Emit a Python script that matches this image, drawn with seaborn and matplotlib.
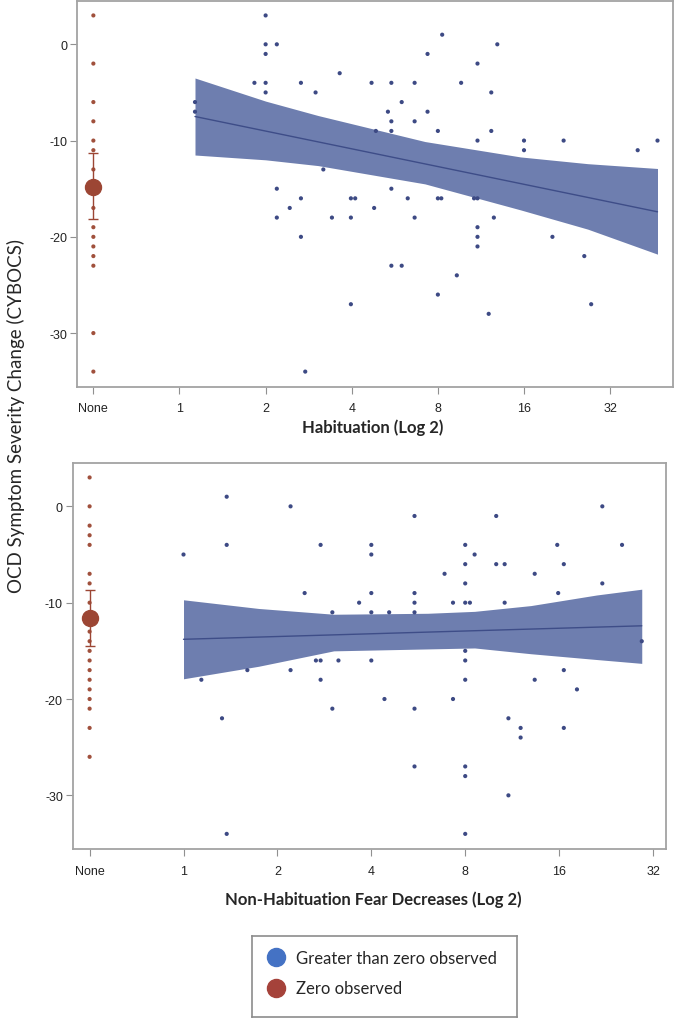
import matplotlib
matplotlib.use('Agg')
import matplotlib.pyplot as plt
import seaborn as sns
from matplotlib.lines import Line2D

# --- data (x is log2 of the count, "None" sits at -1) ---
tick_pos = [-1, 0, 1, 2, 3, 4, 5]
tick_labels = ['None', '1', '2', '4', '8', '16', '32']
y_ticks = [0, -10, -20, -30]

# panel 1: habituation
hab_x = [1.0, 1.0, 1.13, 1.0, 0.87, 1.0, 1.41, 1.0, 1.58, 0.18, 0.18, 1.86, 1.67, 1.13,
         1.41, 1.28, 1.13, 1.77, 1.41, 1.46,
         3.05, 3.69, 2.88, 3.46, 2.23, 2.46, 2.73, 3.27, 3.62, 2.58, 2.42, 2.88, 2.46,
         2.73, 2.28, 2.46, 3.0, 3.62, 3.46, 4.0, 4.46, 5.55, 4.0, 5.32, 2.46, 1.99,
         2.04, 2.65, 3.0, 3.04, 3.42, 3.46, 2.26, 1.99, 2.73, 3.65, 3.46, 3.46, 3.46,
         4.33, 4.70, 2.46, 2.58, 3.22, 3.0, 1.99, 4.78, 3.59]
hab_y = [3, 0, 0, -1, -4, -4, -4, -5, -5, -6, -7, -3, -13, -15,
         -16, -17, -18, -18, -20, -34,
         1, 0, -1, -2, -4, -4, -4, -4, -5, -6, -7, -7, -8,
         -8, -9, -9, -9, -9, -10, -10, -10, -10, -11, -11, -15, -16,
         -16, -16, -16, -16, -16, -16, -17, -18, -18, -18, -19, -20, -21,
         -20, -22, -23, -23, -24, -26, -27, -27, -28]
hab_zero_y = [3, -2, -6, -8, -10, -11, -13, -15, -17, -19, -20, -21, -22, -23, -30, -34]
hab_zero_mean = -14.8
hab_zero_hi = -11.25
hab_zero_lo = -18.1
hab_band_x = [0.18, 1.0, 1.61, 2.85, 3.96, 4.74, 5.55]
hab_band_hi = [-3.5, -5.9, -7.4, -10.1, -11.7, -12.4, -12.9]
hab_band_lo = [-11.5, -12.0, -12.6, -14.5, -17.2, -19.2, -21.8]
hab_line_x = [0.18, 5.55]
hab_line_y = [-7.5, -17.4]

# panel 2: non-habituation fear decreases
nh_x = [0.0, 0.46, 0.46, 1.14, 1.46, 1.29, 1.585, 0.19, 0.68, 1.14, 1.41, 1.46, 1.65,
        1.46, 1.585, 0.41, 0.46,
        4.46, 2.46, 3.33, 2.0, 3.0, 3.98, 4.67, 2.0, 3.1, 3.0, 3.33, 3.42, 4.05, 2.78,
        3.74, 3.0, 4.46, 2.0, 2.46, 3.99, 1.87, 2.46, 2.87, 3.0, 3.05, 3.42, 2.0, 2.19,
        2.46, 4.88, 3.0, 2.0, 3.0, 4.05, 3.0, 3.74, 4.19, 2.14, 2.87, 2.46, 3.46, 3.59,
        3.59, 4.05, 2.46, 3.0, 3.0, 3.46, 3.0]
nh_y = [-5, 1, -4, 0, -4, -9, -11, -18, -17, -17, -16, -16, -16,
        -18, -21, -22, -34,
        0, -1, -1, -4, -4, -4, -4, -5, -5, -6, -6, -6, -6, -7,
        -7, -8, -8, -9, -9, -9, -10, -10, -10, -10, -10, -10, -11, -11,
        -11, -14, -15, -16, -16, -17, -18, -18, -19, -20, -20, -21, -22, -23,
        -24, -23, -27, -27, -28, -30, -34]
nh_zero_y = [3, 0, -2, -3, -4, -7, -8, -10, -12, -13, -14, -15, -16, -17, -18, -19,
             -20, -21, -23, -26]
nh_zero_mean = -11.6
nh_zero_hi = -8.7
nh_zero_lo = -14.5
nh_band_x = [0.0, 0.8, 1.6, 2.6, 3.1, 3.7, 4.4, 4.88]
nh_band_hi = [-9.7, -10.6, -11.2, -11.1, -10.9, -10.3, -9.2, -8.6]
nh_band_lo = [-17.9, -16.6, -15.0, -14.8, -14.7, -15.3, -15.9, -16.3]
nh_line_x = [0.0, 4.88]
nh_line_y = [-13.8, -12.4]

# --- style ---
sns.set_style('white')
plt.rcParams['font.family'] = ['Liberation Sans', 'DejaVu Sans']
plt.rcParams['axes.unicode_minus'] = False

blue_dot = '#3D4A84'
red_dot = '#A0503C'
band_col = '#6E7EAF'
line_col = '#3E4D88'
spine_col = '#A3A3A3'
label_font = ['Lato', 'DejaVu Sans']

fig = plt.figure(figsize=(6.75, 10.2), dpi=100)
ax1 = fig.add_axes([77/675, 1-388/1020, 596/675, 386/1020])
ax2 = fig.add_axes([72.7/675, 1-850.3/1020, 593/675, 386.3/1020])


def draw_panel(ax, x, y, zero_y, z_mean, z_hi, z_lo, bx, bhi, blo, lx, ly, xlim):
    ax.fill_between(bx, blo, bhi, color=band_col, lw=0, zorder=1)
    sns.lineplot(x=lx, y=ly, ax=ax, color=line_col, lw=1.0, zorder=2)
    sns.scatterplot(x=x, y=y, ax=ax, color=blue_dot, s=9, edgecolor='none', zorder=3)
    sns.scatterplot(x=[-1] * len(zero_y), y=zero_y, ax=ax, color=red_dot, s=9,
                    edgecolor='none', zorder=3)
    ax.errorbar([-1], [z_mean], yerr=[[z_mean - z_lo], [z_hi - z_mean]], fmt='o',
                ms=11.5, color='#9C4634', ecolor='#9C4634', elinewidth=1, capsize=3.5,
                capthick=1, zorder=4)
    ax.set_xlim(*xlim)
    ax.set_ylim(-35.6, 4.5)
    ax.set_xticks(tick_pos)
    ax.set_xticklabels(tick_labels)
    ax.set_yticks(y_ticks)
    ax.set_xlabel('')
    ax.set_ylabel('')
    for s in ax.spines.values():
        s.set_visible(True)
        s.set_color(spine_col)
        s.set_linewidth(1.3)
    ax.tick_params(axis='both', direction='out', length=5, width=0.8, color='#909090',
                   labelsize=9, labelcolor='#222222')
    ax.tick_params(axis='x', pad=6, bottom=True)
    ax.tick_params(axis='y', pad=2, left=True)


draw_panel(ax1, hab_x, hab_y, hab_zero_y, hab_zero_mean, hab_zero_hi, hab_zero_lo,
           hab_band_x, hab_band_hi, hab_band_lo, hab_line_x, hab_line_y, (-1.19, 5.73))
draw_panel(ax2, nh_x, nh_y, nh_zero_y, nh_zero_mean, nh_zero_hi, nh_zero_lo,
           nh_band_x, nh_band_hi, nh_band_lo, nh_line_x, nh_line_y, (-1.18, 5.135))

fig.text(373/675, 1-428/1020, 'Habituation (Log 2)', ha='center', va='center',
         fontsize=12, fontweight='bold', family=label_font)
fig.text(373/675, 1-900/1020, 'Non-Habituation Fear Decreases (Log 2)', ha='center',
         va='center', fontsize=12, fontweight='bold', family=label_font)
fig.text(16/675, 1-416/1020, 'OCD Symptom Severity Change (CYBOCS)', rotation=90,
         ha='center', va='center', fontsize=13.5, family=label_font)

# legend box
lax = fig.add_axes([252/675, 1-1018/1020, 265/675, 81/1020])
lax.set_xticks([])
lax.set_yticks([])
for s in lax.spines.values():
    s.set_color('#8C8C8C')
    s.set_linewidth(1.2)
handles = [Line2D([], [], marker='o', ls='none', ms=13, color='#4472C4',
                  label='Greater than zero observed'),
           Line2D([], [], marker='o', ls='none', ms=13, color='#A5423A',
                  label='Zero observed')]
lax.legend(handles=handles, loc='upper left', frameon=False,
           prop={'family': label_font, 'size': 12}, handletextpad=0.6,
           labelspacing=0.85, borderaxespad=0.45, handlelength=1.2)

fig.savefig('out.png', dpi=100)
